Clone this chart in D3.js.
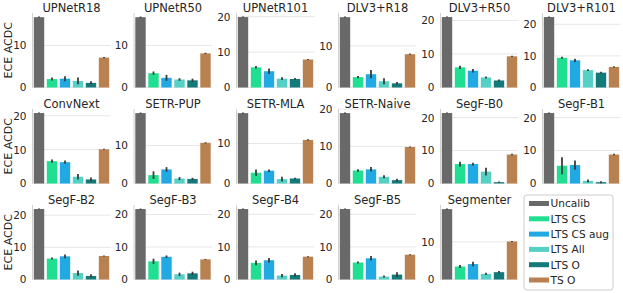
<!DOCTYPE html>
<html><head><meta charset="utf-8">
<script src="https://cdn.jsdelivr.net/npm/d3@7"></script>
<style>body{margin:0;background:#fff}svg{display:block;font-family:"DejaVu Sans",sans-serif}</style>
</head><body><svg id="c" width="623" height="293"></svg>
<script>
const panels = ["UPNetR18","UPNetR50","UPNetR101","DLV3+R18","DLV3+R50","DLV3+R101",
  "ConvNext","SETR-PUP","SETR-MLA","SETR-Naive","SegF-B0","SegF-B1",
  "SegF-B2","SegF-B3","SegF-B4","SegF-B5","Segmenter"];
const methods = ["Uncalib","LTS CS","LTS CS aug","LTS All","LTS O","TS O"];
const colors = ["#696969","#21df91","#20a9e2","#55d0c4","#127b7a","#b8814f"];
const uncalib  = [16.7,16.7,19.9,16.9,21.0,22.3,20.8,18.5,17.6,18.9,21.4,21.4,21.9,21.7,21.6,21.6,18.7];
const ltsCS    = [2.0,3.4,5.7,2.5,6.0,9.4,6.6,2.2,2.7,3.5,5.9,5.4,6.5,5.6,5.1,5.2,3.45];
const ltsCSaug = [2.1,2.3,4.6,3.2,5.0,8.6,6.3,3.7,3.2,3.8,5.9,5.6,7.2,7.0,5.9,6.5,4.1];
const ltsAll   = [1.55,1.9,2.5,1.5,3.0,5.5,2.0,1.3,1.1,1.8,3.6,0.8,2.0,1.6,1.2,0.9,1.5];
const ltsO     = [1.1,1.7,2.4,1.0,2.1,4.7,1.2,1.2,1.25,0.9,0.4,0.4,1.1,1.9,1.4,1.5,1.95];
const tsO      = [7.1,8.1,7.9,8.0,9.3,6.5,10.1,10.7,10.9,9.8,8.8,8.8,7.3,6.2,7.0,7.6,10.1];
// error-bar half lengths
const errUncalib  = [0.15,0.15,0.15,0.15,0.15,0.15,0.15,0.15,0.15,0.15,0.15,0.15,0.15,0.15,0.15,0.15,0.15];
const errLtsCS    = [0.35,0.4,0.35,0.25,0.5,0.3,0.5,1.0,0.8,0.35,0.7,2.6,0.3,0.8,0.7,0.3,0.4];
const errLtsCSaug = [0.6,0.7,0.8,1.0,0.5,0.5,0.5,0.6,0.3,0.6,0.4,1.4,0.6,0.4,0.7,0.7,0.6];
const errLtsAll   = [0.8,0.3,0.4,0.7,0.3,0.3,0.8,0.4,0.6,0.4,1.2,0.4,0.8,0.5,0.5,0.3,0.3];
const errLtsO     = [0.4,0.4,0.3,0.3,0.3,0.3,0.6,0.3,0.2,0.35,0.2,0.3,0.5,0.5,0.5,0.7,0.3];
const errTsO      = [0.15,0.15,0.15,0.15,0.2,0.2,0.15,0.15,0.15,0.15,0.2,0.2,0.15,0.15,0.15,0.15,0.15];
const yTicks = [0,10,20];
const yLabel = "ECE ACDC";

const series = [uncalib, ltsCS, ltsCSaug, ltsAll, ltsO, tsO];
const errs = [errUncalib, errLtsCS, errLtsCSaug, errLtsAll, errLtsO, errTsO];

const svg = d3.select("#c");
const colLeft = [32.5,134,236.5,338.5,440.5,542.5];
const rowTop = [13,109,205];
const pw = 78, ph = 74.5;

panels.forEach((name, i) => {
  const r = Math.floor(i/6), c = i%6;
  const g = svg.append("g").attr("transform", `translate(${colLeft[c]},${rowTop[r]})`);
  const vals = series.map(s => s[i]);
  const es = errs.map(e => e[i]);
  const ymax = d3.max(vals.map((v,k)=>v+es[k]))*1.05;
  const x = d3.scaleBand().domain(methods).range([0,pw]).paddingInner(0.2).paddingOuter(0.1);
  const y = d3.scaleLinear().domain([0,ymax]).range([ph,0]);
  const ticks = yTicks.filter(t => t <= ymax);
  g.selectAll("line.grid").data(ticks).enter().append("line")
    .attr("x1",0).attr("x2",pw).attr("y1",d=>y(d)).attr("y2",d=>y(d))
    .attr("stroke","#e6e6e6").attr("stroke-width",1);
  g.append("line").attr("x1",0).attr("x2",0).attr("y1",0).attr("y2",ph)
    .attr("stroke","#d0d0d0").attr("stroke-width",1);
  const ax = d3.axisLeft(y).tickValues(ticks).tickSize(0).tickPadding(6).tickFormat(d3.format("d"));
  const axg = g.append("g").call(ax);
  axg.select(".domain").remove();
  axg.selectAll("text").attr("font-size","10.5px").attr("fill","#262626").attr("font-family","DejaVu Sans");
  g.selectAll("rect.bar").data(methods).enter().append("rect")
    .attr("x", m => x(m)).attr("width", x.bandwidth())
    .attr("y", (m,k) => y(vals[k])).attr("height", (m,k) => y(0)-y(vals[k]))
    .attr("fill", (m,k) => colors[k]);
  g.selectAll("line.err").data(methods).enter().append("line")
    .attr("x1", m => x(m)+x.bandwidth()/2).attr("x2", m => x(m)+x.bandwidth()/2)
    .attr("y1", (m,k) => y(Math.max(0,vals[k]-es[k]))).attr("y2", (m,k) => y(vals[k]+es[k]))
    .attr("stroke","#3c3c3c").attr("stroke-width",1.8);
  g.append("text").attr("x",pw/2).attr("y",-1.5).attr("text-anchor","middle")
    .attr("font-size","11.5px").attr("fill","#262626").text(name);
  if (c === 0) {
    svg.append("text").attr("transform",`translate(11.5,${rowTop[r]+ph/2}) rotate(-90)`)
      .attr("text-anchor","middle").attr("font-size","11px").attr("fill","#262626").text(yLabel);
  }
});

const lg = svg.append("g").attr("transform","translate(524,195)");
lg.append("rect").attr("x",0).attr("y",0).attr("width",89).attr("height",95).attr("rx",3)
  .attr("fill","#fff").attr("stroke","#cccccc").attr("stroke-width",1);
methods.forEach((m,k) => {
  const cy = 8.5 + k*15.3;
  lg.append("rect").attr("x",5).attr("y",cy-2.5).attr("width",20).attr("height",5).attr("fill",colors[k]);
  lg.append("text").attr("x",26.5).attr("y",cy).attr("dy","0.36em").attr("font-size","10.6px")
    .attr("fill","#262626").text(m);
});
</script></body></html>
